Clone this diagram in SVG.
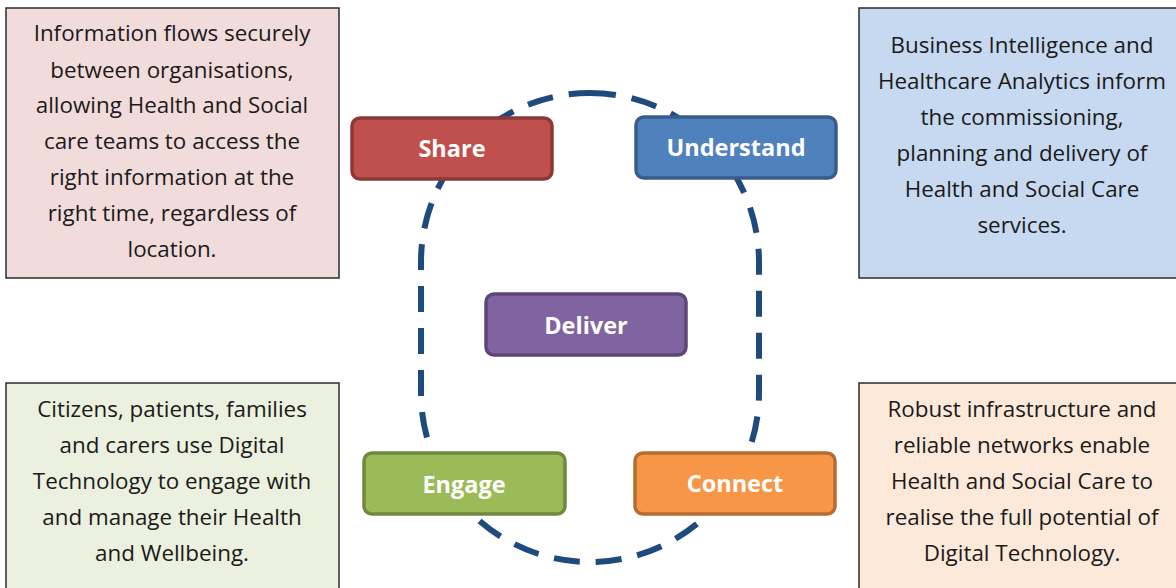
<svg xmlns="http://www.w3.org/2000/svg" width="1176" height="588" viewBox="0 0 1176 588">
<style>
.desc{font-family:"Open Sans","Liberation Sans",sans-serif;font-size:22.4px;fill:#1a1a1a;text-anchor:middle}
.lbl{font-family:"Open Sans","Liberation Sans",sans-serif;font-size:23.5px;font-weight:bold;fill:#ffffff;text-anchor:middle}
.panel{stroke:#2b2b2b;stroke-width:1.5}
.node{stroke-width:3.5}
</style>
<rect width="1176" height="588" fill="#ffffff"/>
<g id="connectors">
<path d="M590,93 A169,169 0 0 1 759,262 L759,393 A169,169 0 0 1 590,562 A169,169 0 0 1 421,393 L421,262 A169,169 0 0 1 590,93 Z" fill="none" stroke="#1F4A7E" stroke-width="6" stroke-dasharray="26 16"/>
</g>
<g id="panel-share">
<rect class="panel" x="6" y="8" width="333" height="270" fill="#F2DCDB"/>
<text class="desc" x="172" y="41">Information flows securely</text>
<text class="desc" x="172" y="78">between organisations,</text>
<text class="desc" x="172" y="113">allowing Health and Social</text>
<text class="desc" x="172" y="149">care teams to access the</text>
<text class="desc" x="172" y="185">right information at the</text>
<text class="desc" x="172" y="221">right time, regardless of</text>
<text class="desc" x="172" y="257">location.</text>
</g>
<g id="panel-understand">
<rect class="panel" x="859" y="8" width="320" height="270" fill="#C6D9F1"/>
<text class="desc" x="1022" y="53">Business Intelligence and</text>
<text class="desc" x="1022" y="89">Healthcare Analytics inform</text>
<text class="desc" x="1022" y="125">the commissioning,</text>
<text class="desc" x="1022" y="161">planning and delivery of</text>
<text class="desc" x="1022" y="197">Health and Social Care</text>
<text class="desc" x="1022" y="233">services.</text>
</g>
<g id="panel-engage">
<rect class="panel" x="6" y="383" width="333" height="210" fill="#EBF1DE"/>
<text class="desc" x="172" y="417">Citizens, patients, families</text>
<text class="desc" x="172" y="453">and carers use Digital</text>
<text class="desc" x="172" y="489">Technology to engage with</text>
<text class="desc" x="172" y="525">and manage their Health</text>
<text class="desc" x="172" y="561">and Wellbeing.</text>
</g>
<g id="panel-connect">
<rect class="panel" x="859" y="383" width="320" height="210" fill="#FDE9D9"/>
<text class="desc" x="1022" y="417">Robust infrastructure and</text>
<text class="desc" x="1022" y="453">reliable networks enable</text>
<text class="desc" x="1022" y="489">Health and Social Care to</text>
<text class="desc" x="1022" y="525">realise the full potential of</text>
<text class="desc" x="1022" y="561">Digital Technology.</text>
</g>
<g id="node-share">
<rect class="node" x="352" y="118" width="200" height="61" rx="8" fill="#C0504D" stroke="#8C3836"/>
<text class="lbl" x="452" y="157">Share</text>
</g>
<g id="node-understand">
<rect class="node" x="636" y="117" width="200" height="61" rx="8" fill="#4F81BD" stroke="#385D8A"/>
<text class="lbl" x="736" y="156">Understand</text>
</g>
<g id="node-deliver">
<rect class="node" x="486" y="294" width="200" height="61" rx="8" fill="#8064A2" stroke="#5C4776"/>
<text class="lbl" x="586" y="334">Deliver</text>
</g>
<g id="node-engage">
<rect class="node" x="364" y="453" width="201" height="61" rx="8" fill="#9BBB59" stroke="#71893F"/>
<text class="lbl" x="464" y="493">Engage</text>
</g>
<g id="node-connect">
<rect class="node" x="635" y="453" width="200" height="61" rx="8" fill="#F79646" stroke="#B66D31"/>
<text class="lbl" x="735" y="492">Connect</text>
</g>
</svg>
